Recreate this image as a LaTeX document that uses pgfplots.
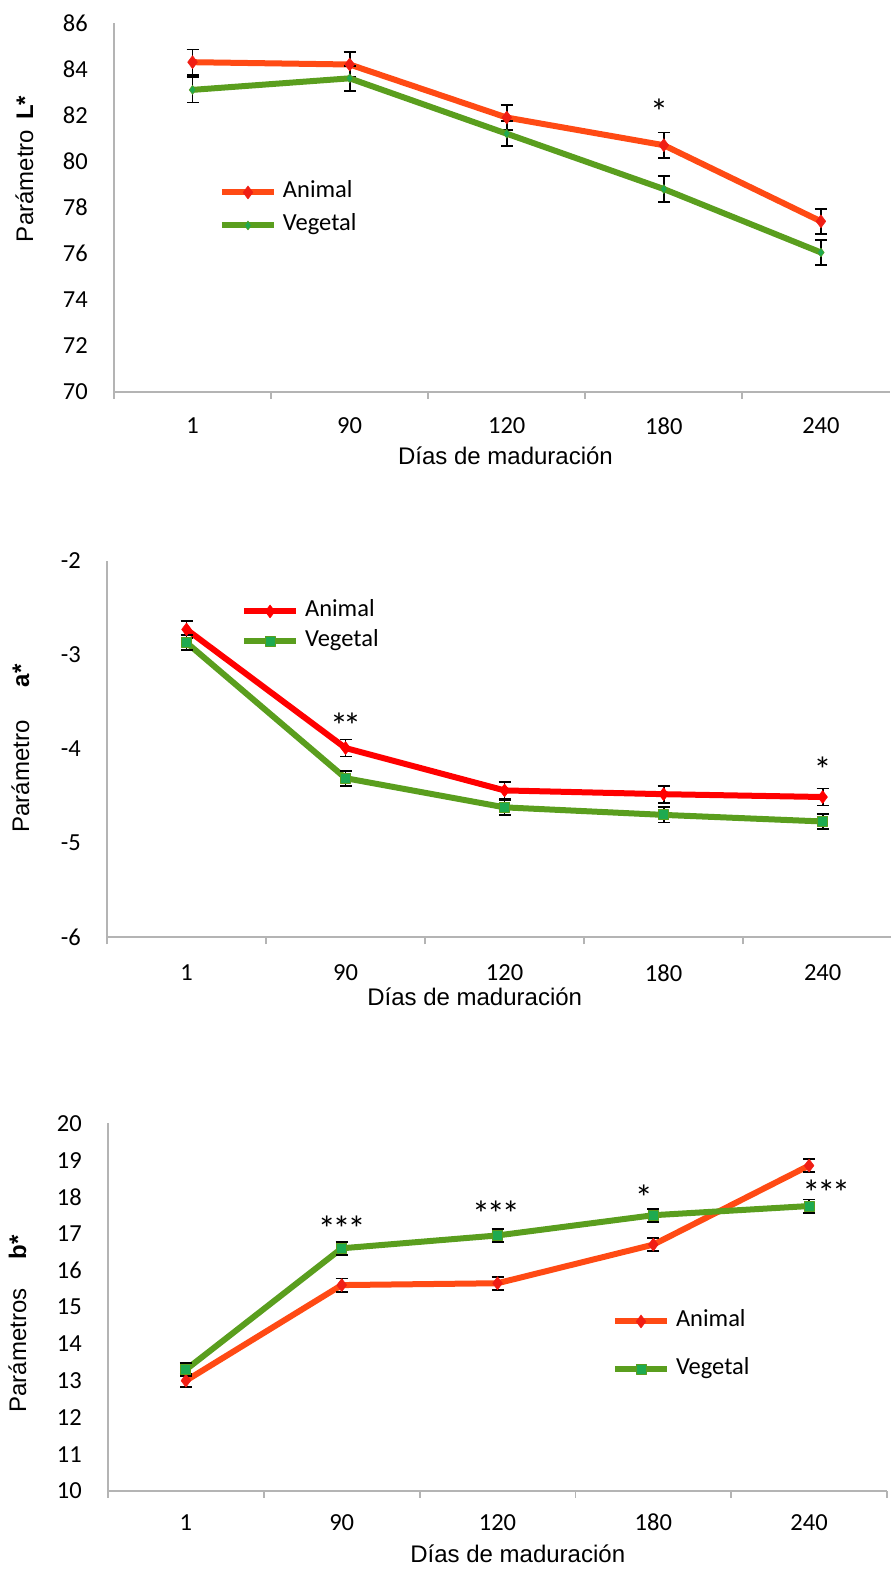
\documentclass[border=0pt]{standalone}
\usepackage{fontspec}
\setmainfont{Carlito}
\newfontfamily\arial{Liberation Sans}
\usepackage{pgfplots}
\pgfplotsset{compat=1.18}
\usepackage{pgfplotstable}

\definecolor{anim}{RGB}{255,74,20}
\definecolor{animmk}{RGB}{240,30,20}
\definecolor{animB}{RGB}{255,0,0}
\definecolor{veg}{RGB}{90,158,30}
\definecolor{vegmk}{RGB}{30,170,80}
\definecolor{axgray}{RGB}{180,180,180}

% Panel L*
\pgfplotstableread{
x y e
0 84.3 0.55
1 84.2 0.55
2 81.9 0.55
3 80.7 0.55
4 77.4 0.55
}\LAn
\pgfplotstableread{
x y e
0 83.1 0.55
1 83.6 0.55
2 81.2 0.55
3 78.8 0.55
4 76.05 0.55
}\LVe
% Panel a*
\pgfplotstableread{
x y e
0 -2.73 0.09
1 -3.99 0.09
2 -4.44 0.09
3 -4.48 0.09
4 -4.51 0.09
}\AAn
\pgfplotstableread{
x y e
0 -2.87 0.08
1 -4.31 0.08
2 -4.62 0.08
3 -4.70 0.08
4 -4.77 0.08
}\AVe
% Panel b*
\pgfplotstableread{
x y e
0 13.0 0.18
1 15.6 0.18
2 15.65 0.18
3 16.7 0.18
4 18.85 0.18
}\BAn
\pgfplotstableread{
x y e
0 13.3 0.18
1 16.6 0.18
2 16.95 0.18
3 17.5 0.18
4 17.75 0.18
}\BVe

\pgfplotsset{
  panel/.style={
    scale only axis, clip=false,
    axis x line=bottom, axis y line=left,
    axis line style={-, draw=axgray, line width=1.8pt},
    xmin=-0.5,
    xtick={0,1,2,3,4}, xticklabels={1,90,120,180,240},
    minor xtick={-0.5,0.5,1.5,2.5,3.5,4.5},
    tick align=outside,
    major tick length=0pt, minor tick length=7pt,
    minor tick style={draw=axgray, line width=1.8pt},
    ytick style={draw=none},
    ticklabel style={font=\fontsize{24.5}{29}\selectfont, inner sep=0pt},
    xticklabel style={anchor=center},
    yticklabel style={anchor=east, xshift=-26pt},
    /pgf/number format/assume math mode=true,
    legend cell align=left,
    legend style={draw=none, fill=none, inner sep=0pt, outer sep=0pt, anchor=north west,
      column sep=6pt, font=\fontsize{24.5}{29}\selectfont,
      nodes={inner sep=0pt, text height=17pt, text depth=6pt}},
    legend image code/.code={\draw[mark repeat=2, mark phase=2, #1] plot coordinates {(0pt,0pt) (26pt,0pt) (52pt,0pt)};},
    xlabel style={font=\arial\fontsize{24}{29}\selectfont, anchor=base},
  },
  ser/.style={line width=6pt, line join=round,
    error bars/y dir=both, error bars/y explicit,
    error bars/error bar style={black, line width=1.8pt, solid},
    error bars/error mark options={rotate=90, black, mark size=6pt, line width=1.8pt}},
}
\tikzset{star/.style={font=\fontsize{36}{40}\selectfont, anchor=center, inner sep=0pt, yshift=-8.5pt}}

\begin{document}
\begin{tikzpicture}
\useasboundingbox (0,0) rectangle (891pt,1569pt);

% ---------------- Panel 1: L*
\begin{axis}[panel, at={(114pt,1177pt)}, anchor=south west, width=776pt, height=369pt,
  xmax=4.44, ymin=70, ymax=86, ytick={70,72,...,86},
  xticklabel style={yshift=-34pt},
  xlabel={Días de maduración}, xlabel style={at={(axis description cs:0.5045,0)}, yshift=-73pt},
  legend style={at={(axis description cs:0.1353,0.5718)}, row sep=10pt}]
\addplot[ser, color=anim, mark=diamond*, mark options={solid, fill=animmk, draw=animmk, line width=0.5pt, mark size=6.5pt}]
  table[x=x, y=y, y error=e] {\LAn};
\addlegendentry{Animal}
\addplot[ser, color=veg, mark=diamond*, mark options={solid, fill=vegmk, draw=veg, line width=0.5pt, mark size=4.5pt}]
  table[x=x, y=y, y error=e] {\LVe};
\addlegendentry{Vegetal}
\node[star] at (axis cs:2.97,82.54) {*};
\end{axis}

% ---------------- Panel 2: a*
\begin{axis}[panel, at={(107pt,631.7pt)}, anchor=south west, width=784pt, height=376.6pt,
  xmax=4.43, ymin=-6, ymax=-2, ytick={-6,-5,-4,-3,-2},
  xticklabel style={yshift=-35.5pt},
  xlabel={Días de maduración}, xlabel style={at={(axis description cs:0.469,0)}, yshift=-68pt},
  legend style={at={(axis description cs:0.171,0.8957)}, row sep=7pt}]
\addplot[ser, color=animB, mark=diamond*, mark options={solid, fill=animB, draw=animB, line width=0.5pt, mark size=6.5pt}]
  table[x=x, y=y, y error=e] {\AAn};
\addlegendentry{Animal}
\addplot[ser, color=veg, mark=square*, mark options={solid, fill=vegmk, draw=veg, line width=1pt, mark size=5pt}]
  table[x=x, y=y, y error=e] {\AVe};
\addlegendentry{Vegetal}
\node[star] at (axis cs:1,-3.66) {*\kern-5pt*};
\node[star] at (axis cs:4,-4.13) {*};
\end{axis}

% ---------------- Panel 3: b*
\begin{axis}[panel, at={(108pt,78pt)}, anchor=south west, width=779pt, height=367.7pt,
  xmax=4.5, ymin=10, ymax=20, ytick={10,11,...,20},
  xticklabel style={yshift=-31.7pt},
  xlabel={Días de maduración}, xlabel style={at={(axis description cs:0.526,0)}, yshift=-71pt},
  legend style={at={(axis description cs:0.647,0.4923)}, row sep=25pt}]
\addplot[ser, color=anim, mark=diamond*, mark options={solid, fill=animmk, draw=animmk, line width=0.5pt, mark size=6.5pt}]
  table[x=x, y=y, y error=e] {\BAn};
\addlegendentry{Animal}
\addplot[ser, color=veg, mark=square*, mark options={solid, fill=vegmk, draw=veg, line width=1pt, mark size=5pt}]
  table[x=x, y=y, y error=e] {\BVe};
\addlegendentry{Vegetal}
\node[star] at (axis cs:1,17.37) {*\kern-3pt*\kern-3pt*};
\node[star] at (axis cs:1.99,17.78) {*\kern-3pt*\kern-3pt*};
\node[star] at (axis cs:2.94,18.2) {*};
\node[star] at (axis cs:4.11,18.34) {*\kern-3pt*\kern-3pt*};
\end{axis}

% ---------------- y-axis titles
\node[rotate=90, anchor=base, font=\arial\fontsize{24}{29}\selectfont] at (33pt,1400pt) {Parámetro\hspace{10pt}\textbf{L*}};
\node[rotate=90, anchor=base, font=\arial\fontsize{24}{29}\selectfont] at (29pt,820.5pt) {Parámetro\hspace{33pt}\textbf{a*}};
\node[rotate=90, anchor=base, font=\arial\fontsize{24}{29}\selectfont] at (26pt,245pt) {Parámetros\hspace{29pt}\textbf{b*}};
\end{tikzpicture}
\end{document}
